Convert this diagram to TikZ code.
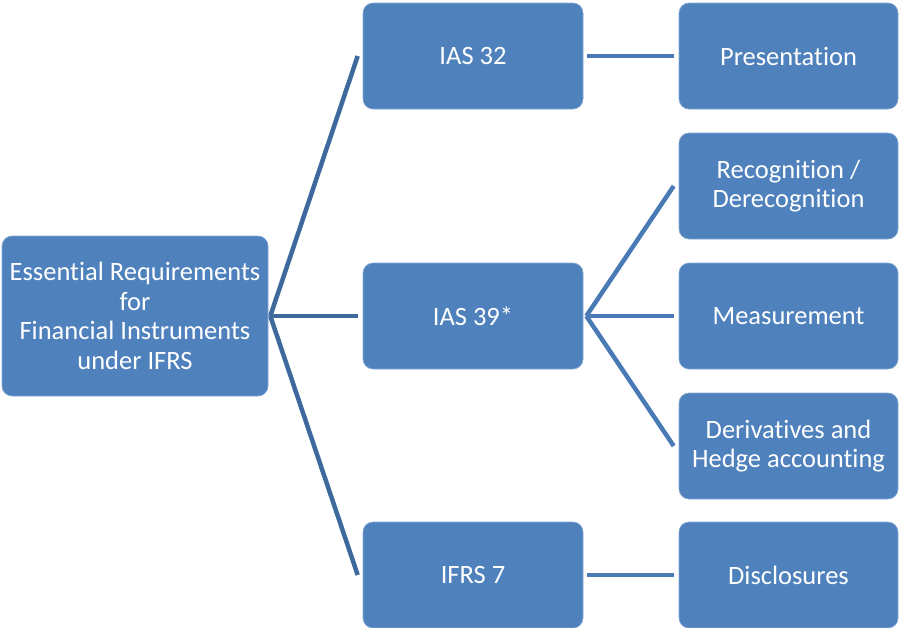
\documentclass[tikz,border=0pt]{standalone}
\usepackage{fontspec}
\setmainfont[Ligatures=NoCommon]{Carlito}
\usetikzlibrary{calc}
\definecolor{boxblue}{HTML}{4F81BD}
\definecolor{rootline}{HTML}{3D6A9C}
\definecolor{subline}{HTML}{4A7AB5}
\begin{document}
\begin{tikzpicture}[x=1pt,y=-1pt,
  box/.style={fill=boxblue,draw=boxblue!70!white,line width=0.6pt,rounded corners=10pt,
    text=white,align=center,font=\fontsize{26.5}{29.5}\selectfont,inner sep=0pt},
  rootlink/.style={draw=rootline,line width=4.5pt},
  sublink/.style={draw=subline,line width=4.5pt}]
\useasboundingbox (0,0) rectangle (899,627);
% root
\node[box,minimum width=266pt,minimum height=160pt] (root) at (135,316)
  {Essential Requirements\\for\\Financial Instruments\\under IFRS};
% standards
\node[box,minimum width=220pt,minimum height=106pt] (ias32) at (473,56) {IAS 32};
\node[box,minimum width=220pt,minimum height=106pt] (ias39) at (473,316) {IAS 39*};
\node[box,minimum width=220pt,minimum height=106pt] (ifrs7) at (473,575) {IFRS 7};
% topics
\node[box,minimum width=219pt,minimum height=106pt] (pres) at (788.5,56) {Presentation};
\node[box,minimum width=219pt,minimum height=106pt] (recog) at (788.5,186) {Recognition /\\Derecognition};
\node[box,minimum width=219pt,minimum height=106pt] (meas) at (788.5,316) {Measurement};
\node[box,minimum width=219pt,minimum height=106pt] (deriv) at (788.5,446) {Derivatives and\\Hedge accounting};
\node[box,minimum width=219pt,minimum height=106pt] (discl) at (788.5,575) {Disclosures};
% connector anchors
\coordinate (r0) at ($(root.east)+(2,0)$);
\coordinate (b0) at ($(ias39.east)+(3,0)$);
\draw[rootlink] (r0) -- ($(ias32.west)+(-5,0)$);
\draw[rootlink] (r0) -- ($(ias39.west)+(-5,0)$);
\draw[rootlink] (r0) -- ($(ifrs7.west)+(-5,0)$);
\draw[sublink] ($(ias32.east)+(4,0)$) -- ($(pres.west)+(-5,0)$);
\draw[sublink] (b0) -- ($(recog.west)+(-5,0)$);
\draw[sublink] (b0) -- ($(meas.west)+(-5,0)$);
\draw[sublink] (b0) -- ($(deriv.west)+(-5,0)$);
\draw[sublink] ($(ifrs7.east)+(4,0)$) -- ($(discl.west)+(-5,0)$);
\end{tikzpicture}
\end{document}
